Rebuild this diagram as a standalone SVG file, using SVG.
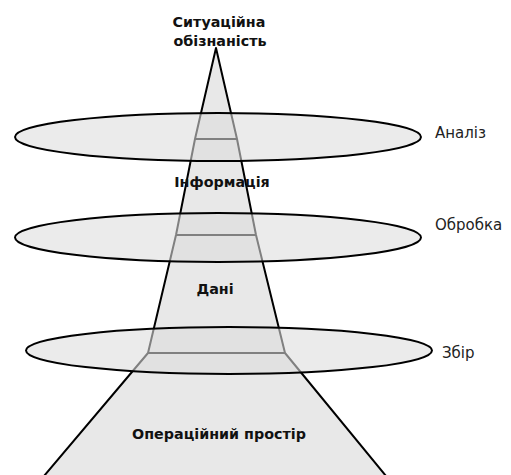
<svg xmlns="http://www.w3.org/2000/svg" width="511" height="475" viewBox="0 0 511 475">
<style>
.cone{fill:#e8e8e8;stroke:#000;stroke-width:2;stroke-linejoin:round}
.sep{stroke:#000;stroke-width:2;fill:none}
.ring{fill:rgb(220,220,220);fill-opacity:0.58;stroke:#000;stroke-width:2}
.b{font-family:"DejaVu Sans","Noto Sans",sans-serif;font-weight:bold;font-size:14.3px;fill:#111;text-anchor:middle}
.r{font-family:"DejaVu Sans","Noto Sans",sans-serif;font-size:15px;fill:#222}
</style>
<rect width="511" height="475" fill="#fff"/>
<g id="cone">
<path class="cone" d="M216,48 L237,139 L256,235 L285,353 L386,476 L44,476 L148,353 L176,235 L195,139 Z"/>
<line class="sep" x1="195" y1="139" x2="237" y2="139"/>
<line class="sep" x1="176" y1="235" x2="256" y2="235"/>
<line class="sep" x1="148" y1="353" x2="285" y2="353"/>
</g>
<g id="connectors">
<ellipse id="ring-analysis" class="ring" cx="218" cy="137" rx="203" ry="24"/>
<ellipse id="ring-processing" class="ring" cx="218" cy="237.5" rx="203" ry="24.5"/>
<ellipse id="ring-collection" class="ring" cx="229" cy="350.5" rx="203" ry="23.5"/>
</g>
<g id="node-situational">
<text class="b" x="219" y="27">Ситуаційна</text>
<text class="b" x="220" y="46">обізнаність</text>
</g>
<g id="node-information"><text class="b" x="222" y="187">Інформація</text></g>
<g id="node-data"><text class="b" x="215" y="294">Дані</text></g>
<g id="node-space"><text class="b" x="219" y="439">Операційний простір</text></g>
<g id="label-analysis"><text class="r" x="435" y="138">Аналіз</text></g>
<g id="label-processing"><text class="r" x="435" y="230">Обробка</text></g>
<g id="label-collection"><text class="r" x="442" y="358">Збір</text></g>
</svg>
